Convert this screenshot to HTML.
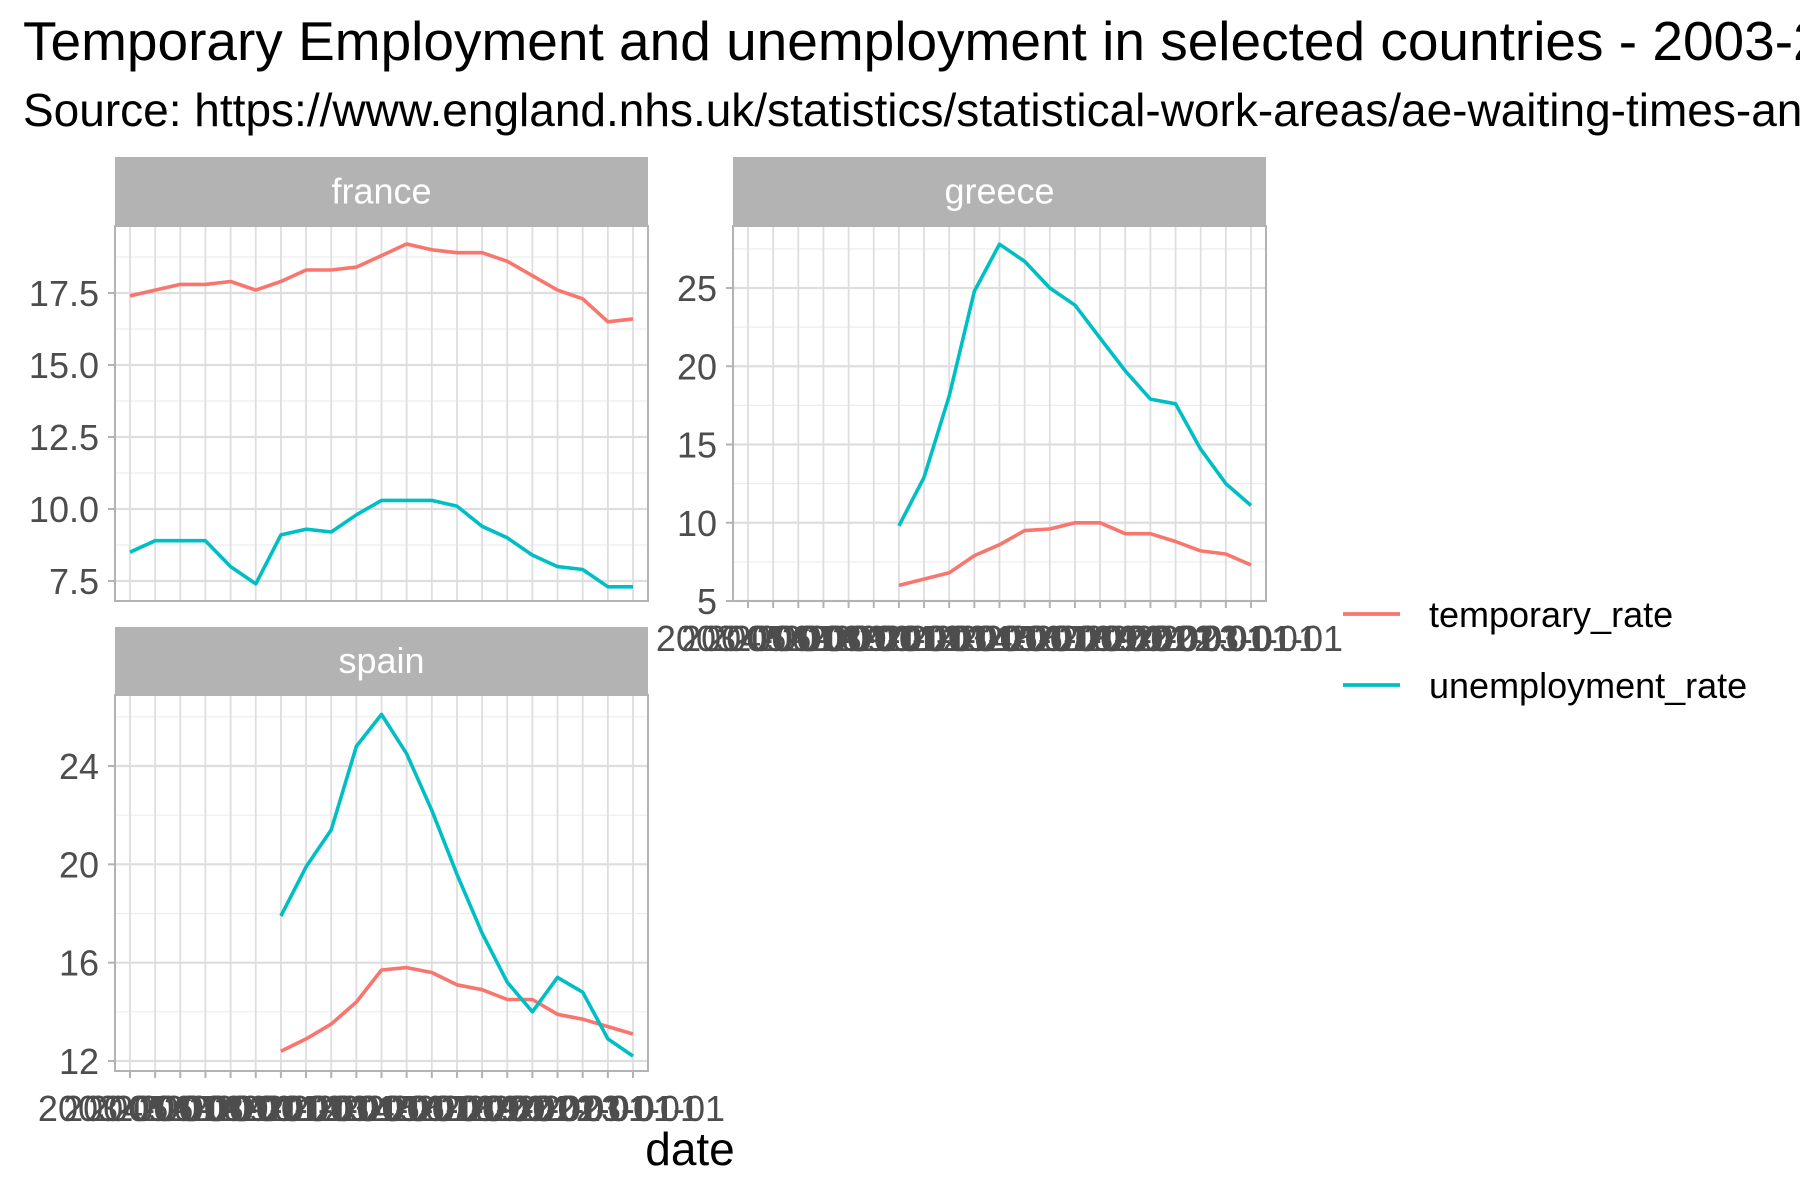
<!DOCTYPE html>
<html><head><meta charset="utf-8"><style>
html,body{margin:0;padding:0;background:#fff;}
svg{display:block;font-family:"Liberation Sans",sans-serif;}
</style></head><body>
<svg id="chart" width="1800" height="1200" viewBox="0 0 1800 1200" xmlns="http://www.w3.org/2000/svg">
<text x="23" y="60" font-size="55" fill="#000">Temporary Employment and unemployment in selected countries - 2003-2023</text>
<text x="23" y="126" font-size="46" fill="#000">Source: https://www.england.nhs.uk/statistics/statistical-work-areas/ae-waiting-times-and-activity/</text>
<text x="690" y="1165" font-size="46" text-anchor="middle" fill="#000">date</text>
<g>
<line x1="1343" x2="1400" y1="614" y2="614" stroke="#F8766D" stroke-width="3.8"/>
<text x="1429" y="627" font-size="36" fill="#000">temporary_rate</text>
<line x1="1343" x2="1400" y1="685" y2="685" stroke="#00BFC4" stroke-width="3.8"/>
<text x="1429" y="698" font-size="36" fill="#000">unemployment_rate</text>
</g>
</svg>
<script>
const years = [2003,2004,2005,2006,2007,2008,2009,2010,2011,2012,2013,2014,2015,2016,2017,2018,2019,2020,2021,2022,2023];
const franceTemporary = [17.4,17.6,17.8,17.8,17.9,17.6,17.9,18.3,18.3,18.4,18.8,19.2,19.0,18.9,18.9,18.6,18.1,17.6,17.3,16.5,16.6];
const franceUnemployment = [8.5,8.9,8.9,8.9,8.0,7.4,9.1,9.3,9.2,9.8,10.3,10.3,10.3,10.1,9.4,9.0,8.4,8.0,7.9,7.3,7.3];
const greeceTemporary = [null,null,null,null,null,null,6.0,6.4,6.8,7.9,8.6,9.5,9.6,10.0,10.0,9.3,9.3,8.8,8.2,8.0,7.3];
const greeceUnemployment = [null,null,null,null,null,null,9.8,12.9,18.1,24.8,27.8,26.7,25.0,23.9,21.8,19.7,17.9,17.6,14.7,12.5,11.1];
const spainTemporary = [null,null,null,null,null,null,12.4,12.9,13.5,14.4,15.7,15.8,15.6,15.1,14.9,14.5,14.5,13.9,13.7,13.4,13.1];
const spainUnemployment = [null,null,null,null,null,null,17.9,19.9,21.4,24.8,26.1,24.5,22.2,19.6,17.2,15.2,14.0,15.4,14.8,12.9,12.2];
const franceTicks = [7.5,10.0,12.5,15.0,17.5];
const greeceTicks = [5,10,15,20,25];
const spainTicks = [12,16,20,24];

const NS = "http://www.w3.org/2000/svg";
const svg = document.getElementById('chart');
function mk(tag, attrs, parent){const e=document.createElementNS(NS,tag);for(const k in attrs)e.setAttribute(k,attrs[k]);(parent||svg).appendChild(e);return e;}

function panel(cfg){
  const g = mk('g',{});
  
  
  const {left,right,top,bottom,stripTop} = cfg;
  const x0 = cfg.x0, x1 = cfg.x1;
  const xs = i => x0 + (x1-x0)*i/(years.length-1);
  const ys = v => cfg.yA + (v - cfg.vA)*(cfg.yB-cfg.yA)/(cfg.vB-cfg.vA);
  const strip = mk('rect',{x:left,y:stripTop,width:right-left,height:top-stripTop,fill:'#b3b3b3'},g);
  
  
  const st = mk('text',{x:(left+right)/2,y:(stripTop+top)/2+12,'font-size':36,fill:'#fff','text-anchor':'middle'},g);
  st.textContent = cfg.name;
  
  
  const step = cfg.ticks[1]-cfg.ticks[0];
  for(let v=cfg.ticks[0]-step/2; v<=cfg.ticks[cfg.ticks.length-1]+step; v+=step){
    const y=ys(v); if(y<top||y>bottom) continue;
    const l=mk('line',{x1:left,x2:right,y1:y,y2:y,stroke:'#ededed','stroke-width':1.2},g);
    
    
  }
  years.forEach((yr,i)=>{
    const l=mk('line',{x1:xs(i),x2:xs(i),y1:top,y2:bottom,stroke:'#dedede','stroke-width':1.8},g);
    
    
  });
  cfg.ticks.forEach(v=>{
    const y=ys(v);
    const l=mk('line',{x1:left,x2:right,y1:y,y2:y,stroke:'#dedede','stroke-width':2.2},g);
    
    
    mk('line',{x1:left-7,x2:left,y1:y,y2:y,stroke:'#b3b3b3','stroke-width':2},g);
    const t=mk('text',{x:left-16,y:y+13,'font-size':36,fill:'#4d4d4d','text-anchor':'end'},g);
    t.textContent = cfg.decimals ? v.toFixed(1) : String(v);
    
    
  });
  if(cfg.xAxis){
    years.forEach((yr,i)=>{
      mk('line',{x1:xs(i),x2:xs(i),y1:bottom,y2:bottom+7,stroke:'#b3b3b3','stroke-width':2},g);
      const t=mk('text',{x:xs(i),y:bottom+50,'font-size':36,fill:'#4d4d4d','text-anchor':'middle'},g);
      t.textContent = yr + '-01-01';
      
      
    });
  }
  [[cfg.temp,'#F8766D','temporary-rate-line'],[cfg.unemp,'#00BFC4','unemployment-rate-line']].forEach(([arr,col,nm])=>{
    let d='';
    arr.forEach((v,i)=>{ if(v==null) return; d += (d?'L':'M') + xs(i).toFixed(1) + ',' + ys(v).toFixed(1); });
    const p=mk('path',{d:d,fill:'none',stroke:col,'stroke-width':3.6,'stroke-linejoin':'round'},g);
    
    
  });
  const b=mk('rect',{x:left,y:top,width:right-left,height:bottom-top,fill:'none',stroke:'#b3b3b3','stroke-width':2},g);
  
  
}

panel({name:'france',left:115,right:648,stripTop:157,top:226,bottom:601,x0:130,x1:633,
  vA:17.5,yA:293,vB:7.5,yB:581,ticks:franceTicks,decimals:true,xAxis:false,temp:franceTemporary,unemp:franceUnemployment});
panel({name:'greece',left:733,right:1266,stripTop:157,top:226,bottom:601,x0:748,x1:1251,
  vA:25,yA:288,vB:5,yB:601,ticks:greeceTicks,decimals:false,xAxis:true,temp:greeceTemporary,unemp:greeceUnemployment});
panel({name:'spain',left:115,right:648,stripTop:627,top:695,bottom:1071,x0:130,x1:633,
  vA:24,yA:766,vB:12,yB:1061,ticks:spainTicks,decimals:false,xAxis:true,temp:spainTemporary,unemp:spainUnemployment});
</script>
</body></html>
